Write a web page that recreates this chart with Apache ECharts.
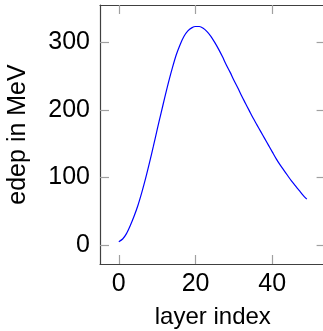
<!DOCTYPE html>
<html><head><meta charset="utf-8">
<script src="https://cdn.jsdelivr.net/npm/echarts@6/dist/echarts.min.js"></script>
<style>html,body{margin:0;padding:0;background:#fff}#c{width:323px;height:331px}</style>
</head><body><div id="c"></div>
<script>
const layerIndex = Array.from({length: 50}, (_, i) => i);
const edep = [5, 9, 17, 29, 43, 59, 78, 99, 122, 146,
  171, 195, 219, 242, 263, 282, 297, 309, 317, 321.5,
  323.5, 323.5, 321, 316, 309, 300, 290, 279, 267, 256,
  244, 233, 221, 210, 199, 188, 178, 168, 158, 148,
  138, 128, 119, 111, 103, 95, 88, 81, 74, 68];
const xTicks = [0, 20, 40];
const yTicks = [0, 100, 200, 300];
const xName = 'layer index';
const yName = 'edep in MeV';

const font = 'Liberation Sans';
const fs = 25;
const boxColor = '#404040';
const tickColor = '#a0a0a0';
const xr = [-4.9, 53.9], yr = [-27.95, 355.35];

function xAxisDef(pos, show) {
  return {type: 'value', position: pos, min: xr[0], max: xr[1],
    axisLine: {show: true, onZero: false, lineStyle: {color: boxColor, width: 1.2}},
    axisTick: {show: true, inside: true, length: 9, lineStyle: {color: tickColor, width: 1.2},
      customValues: xTicks},
    axisLabel: {show: show, customValues: xTicks, fontFamily: font, fontSize: fs, color: '#000', margin: 8},
    splitLine: {show: false},
    name: show ? xName : '', nameLocation: 'middle', nameGap: 41,
    nameTextStyle: {fontFamily: font, fontSize: 24, color: '#000'}};
}
function yAxisDef(pos, show) {
  return {type: 'value', position: pos, min: yr[0], max: yr[1],
    axisLine: {show: true, onZero: false, lineStyle: {color: boxColor, width: 1.2}},
    axisTick: {show: true, inside: true, length: 9, lineStyle: {color: tickColor, width: 1.2},
      customValues: yTicks},
    axisLabel: {show: show, customValues: yTicks, fontFamily: font, fontSize: fs, color: '#000', margin: 10},
    splitLine: {show: false},
    name: show ? yName : '', nameLocation: 'middle', nameGap: 69, nameRotate: 90,
    nameTextStyle: {fontFamily: font, fontSize: 25, color: '#000'}};
}

const chart = echarts.init(document.getElementById('c'), null, {renderer: 'canvas'});
chart.setOption({
  animation: false,
  grid: {left: 100, top: 5, width: 225.6, height: 259, containLabel: false, outerBoundsMode: 'none'},
  xAxis: [xAxisDef('bottom', true), xAxisDef('top', false)],
  yAxis: [yAxisDef('left', true), yAxisDef('right', false)],
  series: [{type: 'line', data: layerIndex.map((x, i) => [x, edep[i]]),
    showSymbol: false, smooth: 0.3, lineStyle: {color: '#0000ff', width: 1.2}, clip: true}]
});
</script></body></html>
